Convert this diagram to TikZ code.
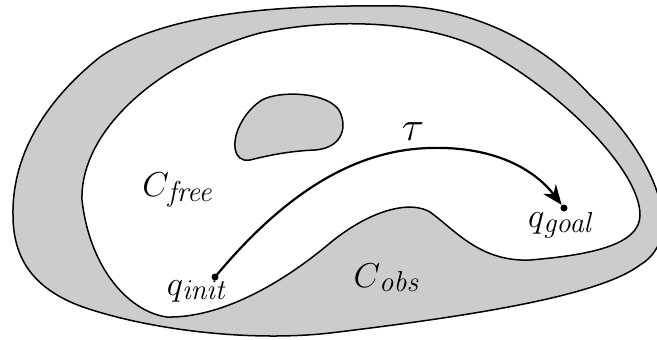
\documentclass[tikz,border=0pt]{standalone}
\usetikzlibrary{arrows.meta}
\newcommand\lbl[2]{{\fontsize{19}{22}\selectfont$#1$}\hspace{-0.5pt}\raisebox{-0.5ex}{\fontsize{14}{16}\selectfont$\mathit{#2}$}}
\tikzset{
  region/.style={draw=black, line width=0.75pt, fill=black!20},
  dot/.style={circle, fill=black, inner sep=0pt, minimum size=3.5pt},
  path/.style={line width=1.1pt, -{Stealth[length=10pt,width=8pt]}},
  lab/.style={inner sep=0pt}
}
\begin{document}
\begin{tikzpicture}[x=0.5pt,y=-0.5pt]
\useasboundingbox (0,0) rectangle (657,339);
\clip (0,0) rectangle (657,339);
% C_obs region: outer boundary minus free space
\path[region, even odd rule]
  (13,215) .. controls (12,160) and (40,105) .. (100,57)
  .. controls (170,8) and (300,5) .. (400,6)
  .. controls (470,8) and (540,40) .. (590,95)
  .. controls (650,150) and (690,235) .. (640,265)
  .. controls (600,295) and (480,315) .. (330,333)
  .. controls (250,342) and (150,330) .. (83,307)
  .. controls (30,288) and (13,255) .. (13,215) -- cycle
  (82,200) .. controls (80,130) and (160,60) .. (260,33)
  .. controls (330,18) and (420,20) .. (480,48)
  .. controls (560,90) and (640,170) .. (640,215)
  .. controls (640,245) and (590,255) .. (530,260)
  .. controls (480,262) and (455,230) .. (430,212)
  .. controls (410,200) and (370,210) .. (330,243)
  .. controls (280,285) and (220,318) .. (167,317)
  .. controls (130,312) and (90,270) .. (82,200) -- cycle;
% interior obstacle
\path[region]
  (262,100) .. controls (280,90) and (330,92) .. (340,112)
  .. controls (348,130) and (340,148) .. (315,150)
  .. controls (290,151) and (270,155) .. (250,160)
  .. controls (232,163) and (232,140) .. (240,125)
  .. controls (246,113) and (254,105) .. (262,100) -- cycle;
% start and goal
\node[dot] (qinit) at (215,277) {};
\node[dot] (qgoal) at (564,208) {};
\coordinate (mid) at (430,148);
\draw[path] (qinit.center) .. controls (275,205) and (345,150) .. (mid)
  .. controls (495,146) and (535,170) .. (qgoal);
% labels
\node[lab] (tau) at (413,132) {\fontsize{20}{24}\selectfont$\tau$};
\node[lab] (cfree) at (178,190) {\lbl{C}{free}};
\node[lab] (cobs) at (387,278) {\lbl{C}{obs}};
\node[lab] (linit) at (197,291) {\lbl{q}{init}};
\node[lab] (lgoal) at (561,225) {\lbl{q}{goal}};
\end{tikzpicture}
\end{document}
